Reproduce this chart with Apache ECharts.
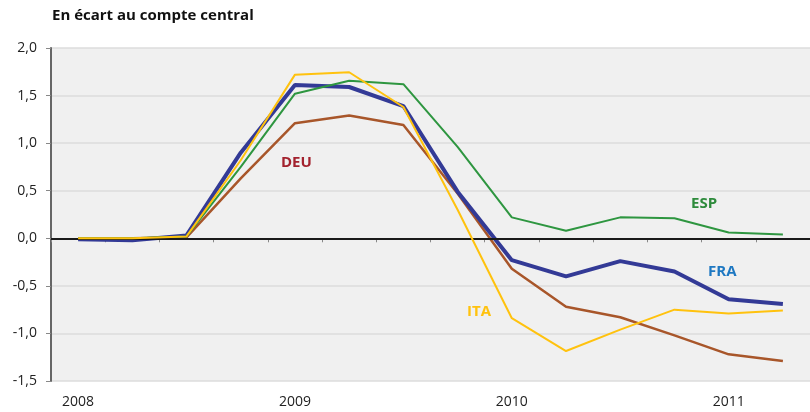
<!DOCTYPE html>
<html>
<head>
<meta charset="utf-8">
<script src="https://cdn.jsdelivr.net/npm/echarts@6/dist/echarts.min.js"></script>
<style>
  html, body { margin: 0; padding: 0; background: #fff; }
  #chart1 { width: 810px; height: 412px; }
</style>
</head>
<body>
<div id="chart1"></div>
<script>
// trimestres 2008T1 - 2011T2
var categories = ['2008', '2008T2', '2008T3', '2008T4', '2009', '2009T2', '2009T3', '2009T4',
                  '2010', '2010T2', '2010T3', '2010T4', '2011', '2011T2'];
var yearLabels = ['2008', '2009', '2010', '2011'];
var yTicks = [-1.5, -1.0, -0.5, 0.0, 0.5, 1.0, 1.5, 2.0];

var deu = [0.0, 0.0, 0.01, 0.63, 1.21, 1.29, 1.19, 0.47, -0.32, -0.72, -0.83, -1.02, -1.22, -1.29];
var fra = [-0.01, -0.02, 0.03, 0.90, 1.61, 1.59, 1.39, 0.49, -0.23, -0.40, -0.24, -0.35, -0.64, -0.69];
var esp = [0.0, 0.0, 0.02, 0.75, 1.52, 1.655, 1.62, 0.96, 0.22, 0.08, 0.22, 0.21, 0.06, 0.04];
var ita = [0.0, 0.0, 0.02, 0.82, 1.72, 1.745, 1.38, 0.30, -0.84, -1.185, -0.96, -0.75, -0.79, -0.76];

var fontFam = '"Open Sans", "Noto Sans", sans-serif';

function fmt(v) {
    return v.toFixed(1).replace('.', ',');
}

var myChart = echarts.init(document.getElementById('chart1'));
myChart.setOption({
    animation: false,
    backgroundColor: '#ffffff',
    textStyle: { fontFamily: fontFam },
    grid: {
        left: 51, right: -7, top: 48, bottom: 31,
        show: true, backgroundColor: '#f0f0f0', borderWidth: 0
    },
    graphic: [
        { type: 'text', left: 52, top: 8,
          style: { text: 'En écart au compte central', font: 'bold 15px ' + fontFam, fill: '#111' } },
        { type: 'text', left: 281, top: 155,
          style: { text: 'DEU', font: 'bold 15px ' + fontFam, fill: '#a3222e' } },
        { type: 'text', left: 691, top: 196,
          style: { text: 'ESP', font: 'bold 15px ' + fontFam, fill: '#2e8b3c' } },
        { type: 'text', left: 708, top: 264,
          style: { text: 'FRA', font: 'bold 15px ' + fontFam, fill: '#1e78c2' } },
        { type: 'text', left: 467, top: 304,
          style: { text: 'ITA', font: 'bold 15px ' + fontFam, fill: '#ffc20e' } }
    ],
    xAxis: {
        type: 'category',
        data: categories,
        boundaryGap: true,
        axisLine: { lineStyle: { color: '#666', width: 2 } },
        axisTick: { show: true, length: 4, lineStyle: { color: '#888' } },
        axisLabel: {
            margin: 14, fontSize: 14, color: '#222',
            interval: 0,
            formatter: function (v) { return yearLabels.indexOf(v) >= 0 ? v : ''; }
        },
        splitLine: { show: false }
    },
    yAxis: {
        type: 'value',
        min: yTicks[0], max: yTicks[yTicks.length - 1], interval: 0.5,
        axisLine: { show: true, lineStyle: { color: '#666', width: 2 } },
        axisTick: { show: true, length: 5, lineStyle: { color: '#888' } },
        axisLabel: { margin: 14, fontSize: 14, color: '#222', formatter: fmt },
        splitLine: { lineStyle: { color: '#dcdcdc', width: 1.5 } }
    },
    series: [
        {
            name: 'DEU', type: 'line', data: deu, symbol: 'none', z: 2,
            lineStyle: { color: '#a8562a', width: 2.5 },
            markLine: {
                silent: true, symbol: 'none', label: { show: false },
                lineStyle: { color: '#1a1a1a', width: 2, type: 'solid' },
                data: [{ yAxis: 0 }]
            }
        },
        {
            name: 'FRA', type: 'line', data: fra, symbol: 'none', z: 3,
            lineStyle: { color: '#333a96', width: 4 }
        },
        {
            name: 'ESP', type: 'line', data: esp, symbol: 'none', z: 4,
            lineStyle: { color: '#2e9640', width: 2 }
        },
        {
            name: 'ITA', type: 'line', data: ita, symbol: 'none', z: 5,
            lineStyle: { color: '#ffc20e', width: 2 }
        }
    ]
});
</script>
</body>
</html>
